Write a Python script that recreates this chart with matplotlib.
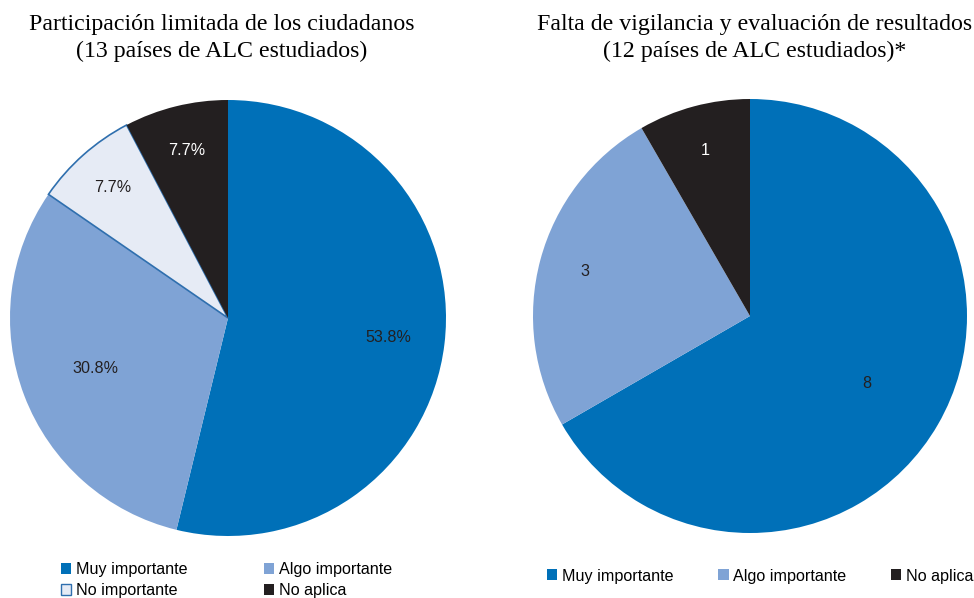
import numpy as np
import matplotlib.pyplot as plt
from matplotlib.patches import Patch

plt.rcParams['font.family'] = ['Liberation Sans', 'DejaVu Sans']

categorias1 = ["Muy importante", "Algo importante", "No importante", "No aplica"]
valores1 = [53.8, 30.8, 7.7, 7.7]
colores1 = ["#0070b8", "#7fa3d5", "#e6ebf5", "#231f20"]
titulo1 = "Participación limitada de los ciudadanos\n(13 países de ALC estudiados)"

categorias2 = ["Muy importante", "Algo importante", "No aplica"]
valores2 = [8, 3, 1]
colores2 = ["#0070b8", "#7fa3d5", "#231f20"]
titulo2 = "Falta de vigilancia y evaluación de resultados\n(12 países de ALC estudiados)*"

W, H = 974, 598
fig = plt.figure(figsize=(W / 100, H / 100), dpi=100)


def pie_axes(cx, cy, r):
    # cx, cy, r en pixeles (y desde arriba)
    return fig.add_axes([(cx - r) / W, 1 - (cy + r) / H, 2 * r / W, 2 * r / H])


def draw_pie(ax, vals, cols, labels, dists, txtcols):
    wedges, _ = ax.pie(vals, colors=cols, startangle=90, counterclock=False,
                       radius=1, wedgeprops=dict(linewidth=0))
    for w, lab, d, tc in zip(wedges, labels, dists, txtcols):
        mid = np.deg2rad((w.theta1 + w.theta2) / 2)
        ax.text(d * np.cos(mid), d * np.sin(mid), lab, ha='center', va='center',
                fontsize=11.6, color=tc)
    ax.set_xlim(-1, 1)
    ax.set_ylim(-1, 1)
    ax.set_aspect('equal')
    ax.axis('off')
    return wedges


ax1 = pie_axes(228, 318, 218)
w1 = draw_pie(ax1, valores1, colores1, [f"{v}%" for v in valores1],
              [0.74, 0.65, 0.80, 0.79], ["#231f20", "#231f20", "#231f20", "white"])
w1[2].set_edgecolor("#2f6fae")
w1[2].set_linewidth(1.2)

ax2 = pie_axes(750, 316, 217)
w2 = draw_pie(ax2, valores2, colores2, [str(v) for v in valores2],
              [0.62, 0.79, 0.79], ["#231f20", "#231f20", "white"])

fig.text(222 / W, 1 - 38 / H, titulo1, ha='center', va='center',
         fontsize=17.2, family='Liberation Serif', linespacing=1.35)
fig.text(755 / W, 1 - 38 / H, titulo2, ha='center', va='center',
         fontsize=17.2, family='Liberation Serif', linespacing=1.35)

h1 = [Patch(facecolor=c, edgecolor="#2f6fae" if c == "#e6ebf5" else c,
            linewidth=1 if c == "#e6ebf5" else 0) for c in colores1]
order = [0, 2, 1, 3]
fig.legend([h1[i] for i in order], [categorias1[i] for i in order], ncol=2,
           loc='center left', bbox_to_anchor=(61 / W, 1 - 580 / H),
           frameon=False, fontsize=11.6, handlelength=0.65, handleheight=0.65,
           handletextpad=0.3, columnspacing=4.7, labelspacing=0.35,
           borderpad=0, borderaxespad=0)

h2 = [Patch(facecolor=c, linewidth=0) for c in colores2]
fig.legend(h2, categorias2, ncol=3,
           loc='center left', bbox_to_anchor=(547 / W, 1 - 576 / H),
           frameon=False, fontsize=11.6, handlelength=0.65, handleheight=0.65,
           handletextpad=0.3, columnspacing=2.75,
           borderpad=0, borderaxespad=0)

fig.savefig("out.png", dpi=100)
